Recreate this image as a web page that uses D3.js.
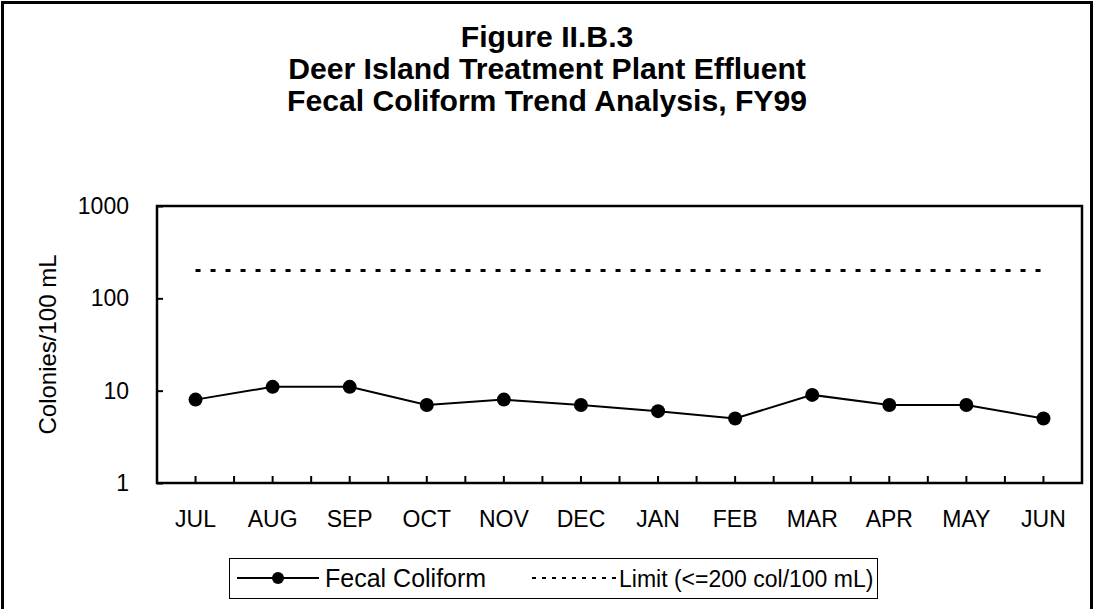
<!DOCTYPE html>
<html><head><meta charset="utf-8">
<script src="https://cdn.jsdelivr.net/npm/d3@7"></script>
<style>body{margin:0;background:#fff}svg{display:block;font-family:"Liberation Sans",Arial,sans-serif}</style>
</head><body><svg id="c" width="1094" height="609"></svg>
<script>
const months = ["JUL","AUG","SEP","OCT","NOV","DEC","JAN","FEB","MAR","APR","MAY","JUN"];
const fecal = [8,11,11,7,8,7,6,5,9,7,7,5];
const limit = [200,200,200,200,200,200,200,200,200,200,200,200];
const yTicks = [1,10,100,1000];
const titleLines = ["Figure II.B.3","Deer Island Treatment Plant Effluent","Fecal Coliform Trend Analysis, FY99"];

const FONT = "Liberation Sans, Arial, sans-serif";
const svg = d3.select("#c");
const L=157,R=1082,T=206,B=483;
svg.append("rect").attr("x",2.5).attr("y",2.5).attr("width",1089).attr("height",640).attr("fill","none").attr("stroke","#000").attr("stroke-width",3);

svg.append("g").attr("transform","translate(547,0) scale(1.04,1)")
  .selectAll("text").data(titleLines).join("text")
  .attr("x",0).attr("y",(d,i)=>47.5+i*32).attr("text-anchor","middle")
  .attr("font-size",29).attr("font-weight","bold").text(d=>d);

const x = d3.scaleBand().domain(months).range([L,R]);
const y = d3.scaleLog().domain([1,1000]).range([B,T]);

// y axis
const ya = svg.append("g").attr("transform",`translate(${L},0)`)
  .call(d3.axisLeft(y).tickValues(yTicks).tickFormat(d3.format("d")).tickSizeInner(-6).tickSizeOuter(0).tickPadding(28));
ya.select(".domain").remove();
ya.selectAll("line").attr("stroke","#000").attr("stroke-width",2);
ya.selectAll("text").attr("font-size",23).attr("font-family",FONT).attr("fill","#000");

// x axis ticks at half-categories
const halfTicks = [];
months.forEach((m,i)=>{ if(i>0) halfTicks.push(x(m)); halfTicks.push(x(m)+x.bandwidth()/2); });
svg.append("g").selectAll("line").data(halfTicks).join("line")
  .attr("x1",d=>d).attr("x2",d=>d).attr("y1",B).attr("y2",B-7).attr("stroke","#000").attr("stroke-width",2);
const xa = svg.append("g").attr("transform",`translate(0,${B})`)
  .call(d3.axisBottom(x).tickSize(0).tickPadding(28));
xa.select(".domain").remove();
xa.selectAll("text").attr("font-size",23).attr("font-family",FONT).attr("fill","#000");

svg.append("rect").attr("x",L).attr("y",T).attr("width",R-L).attr("height",B-T)
  .attr("fill","none").attr("stroke","#000").attr("stroke-width",2.5);

svg.append("text").attr("transform",`translate(56,${(T+B)/2}) rotate(-90)`).attr("text-anchor","middle")
  .attr("font-size",24).text("Colonies/100 mL");

const cx = m=>x(m)+x.bandwidth()/2;
svg.append("path").datum(limit).attr("fill","none").attr("stroke","#000").attr("stroke-width",3)
  .attr("stroke-dasharray","5,10")
  .attr("d",d3.line().x((d,i)=>cx(months[i])).y(d=>y(d)));
svg.append("path").datum(fecal).attr("fill","none").attr("stroke","#000").attr("stroke-width",2)
  .attr("d",d3.line().x((d,i)=>cx(months[i])).y(d=>y(d)));
svg.append("g").selectAll("circle").data(fecal).join("circle")
  .attr("cx",(d,i)=>cx(months[i])).attr("cy",d=>y(d)).attr("r",7).attr("fill","#000");

// legend
const lg = svg.append("g");
lg.append("rect").attr("x",229.5).attr("y",558.5).attr("width",648).attr("height",40).attr("fill","#fff").attr("stroke","#000").attr("stroke-width",1);
lg.append("line").attr("x1",237).attr("x2",319).attr("y1",578).attr("y2",578).attr("stroke","#000").attr("stroke-width",2);
lg.append("circle").attr("cx",278).attr("cy",578).attr("r",6).attr("fill","#000");
lg.append("text").attr("x",325).attr("y",587).attr("font-size",25).text("Fecal Coliform");
lg.append("line").attr("x1",532).attr("x2",616).attr("y1",578).attr("y2",578).attr("stroke","#000").attr("stroke-width",2).attr("stroke-dasharray","4,6");
lg.append("text").attr("x",619).attr("y",587).attr("font-size",23).text("Limit (<=200 col/100 mL)");
</script></body></html>
